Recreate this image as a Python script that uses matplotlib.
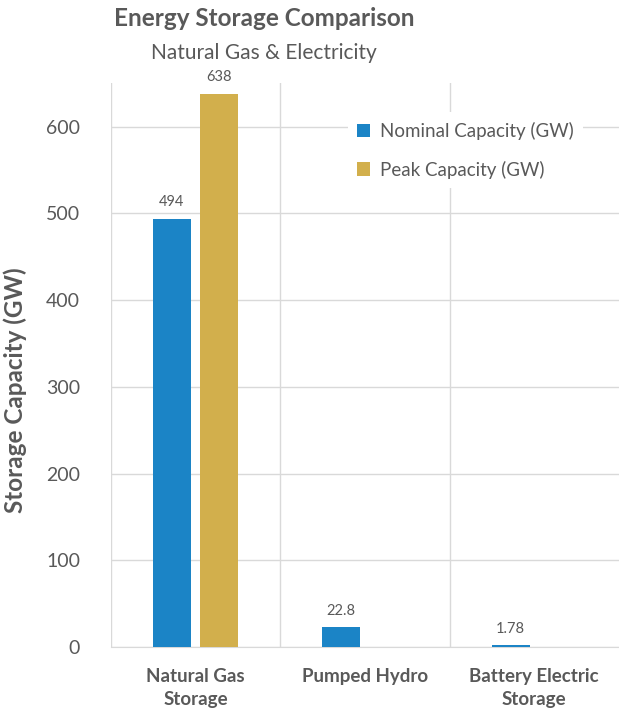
import numpy as np
import matplotlib.pyplot as plt

categories = ['Natural Gas\nStorage', 'Pumped Hydro', 'Battery Electric\nStorage']
nominal = [494, 22.8, 1.78]
peak = [638, None, None]
nominal_labels = ['494', '22.8', '1.78']
peak_labels = ['638', '', '']
yticks = [0, 100, 200, 300, 400, 500, 600]

blue = '#1B84C6'
gold = '#D2AF4C'
grey = '#595959'
grid = '#D9D9D9'

plt.rcParams['font.family'] = ['Lato', 'DejaVu Sans']

fig = plt.figure(figsize=(6.19, 7.10), dpi=100)
ax = fig.add_axes([0.179, 0.0887, 0.821, 0.794])

x = np.arange(len(categories))
w = 0.225
off = 0.14

b1 = ax.bar(x - off, nominal, w, color=blue, label='Nominal Capacity (GW)', zorder=3)
pk = [v if v is not None else 0 for v in peak]
b2 = ax.bar(x + off, pk, w, color=gold, label='Peak Capacity (GW)', zorder=3)

for rect, lab in zip(b1, nominal_labels):
    ax.annotate(lab, (rect.get_x() + rect.get_width() / 2, rect.get_height()),
                xytext=(0, 7), textcoords='offset points', ha='center', va='bottom',
                fontsize=10.5, color=grey)
for rect, lab in zip(b2, peak_labels):
    if lab:
        ax.annotate(lab, (rect.get_x() + rect.get_width() / 2, rect.get_height()),
                    xytext=(0, 7), textcoords='offset points', ha='center', va='bottom',
                    fontsize=10.5, color=grey)

ax.set_xlim(-0.5, 2.5)
ax.set_ylim(0, 650)
ax.set_yticks(yticks)
ax.set_xticks(x)
ax.set_xticklabels(categories, fontsize=13.5, fontweight='bold', color=grey, linespacing=1.45)
ax.tick_params(axis='y', labelsize=14, colors=grey, length=0, pad=22)
ax.tick_params(axis='x', length=0, pad=15)

ax.grid(axis='y', color=grid, linewidth=1, zorder=0)
for xb in [-0.5, 0.5, 1.5]:
    ax.axvline(xb, color=grid, linewidth=1, zorder=1)
for s in ['top', 'right', 'left']:
    ax.spines[s].set_visible(False)
ax.spines['bottom'].set_color(grid)

leg = ax.legend(loc='upper left', bbox_to_anchor=(0.448, 0.965), fontsize=13.5,
                frameon=True, facecolor='white', edgecolor='none', framealpha=1,
                handlelength=0.7, handleheight=0.7, handletextpad=0.5,
                labelspacing=1.1, borderpad=0.5)
for t in leg.get_texts():
    t.set_color(grey)
leg.set_zorder(5)

fig.text(264 / 619, 1 - 19 / 710, 'Energy Storage Comparison', ha='center', va='center',
         fontsize=17.5, fontweight='bold', color=grey)
fig.text(264 / 619, 1 - 53 / 710, 'Natural Gas & Electricity', ha='center', va='center',
         fontsize=15, color=grey)
fig.text(15 / 619, 1 - 390 / 710, 'Storage Capacity (GW)', ha='center', va='center',
         rotation=90, fontsize=17.5, fontweight='bold', color=grey)

fig.savefig('out.png', dpi=100)
